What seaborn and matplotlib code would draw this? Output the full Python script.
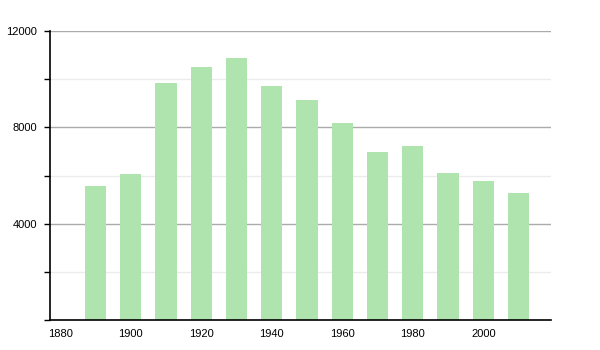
import matplotlib
matplotlib.use("Agg")
import matplotlib.pyplot as plt
import seaborn as sns
import pandas as pd
from matplotlib.ticker import MultipleLocator

years = [1890, 1900, 1910, 1920, 1930, 1940, 1950, 1960, 1970, 1980, 1990, 2000, 2010]
population = [5578, 6064, 9832, 10496, 10883, 9720, 9138, 8170, 6991, 7227, 6093, 5774, 5288]
xticks = [1880, 1900, 1920, 1940, 1960, 1980, 2000]
yticks = [4000, 8000, 12000]

df = pd.DataFrame({"year": years, "population": population})

sns.set_style("white")
plt.rcParams['font.family'] = ['Liberation Sans', 'DejaVu Sans']

fig = plt.figure(figsize=(6, 3.5), dpi=100)
ax = fig.add_axes([50/600, 30/350, 501/600, 289/350])

# gridlines
for y in [2000, 6000, 10000]:
    ax.axhline(y, color="#ececec", lw=1, zorder=0)
for y in yticks:
    ax.axhline(y, color="#ababab", lw=1, zorder=0)

sns.barplot(data=df, x="year", y="population", native_scale=True,
            color="#b0e4ae", saturation=1, width=0.6, ax=ax, zorder=2)
for p in ax.patches:
    p.set_linewidth(0)

ax.set_xlim(1877.1, 2019.2)
ax.set_ylim(0, 12000)
ax.set_xticks(xticks)
ax.set_xticklabels([str(t) for t in xticks])
ax.set_yticks(yticks)
ax.set_yticklabels([str(t) for t in yticks])
ax.yaxis.set_minor_locator(MultipleLocator(2000))
ax.set_xlabel("")
ax.set_ylabel("")

for s in ["top", "right"]:
    ax.spines[s].set_visible(False)
for s in ["left", "bottom"]:
    ax.spines[s].set_color("black")
    ax.spines[s].set_linewidth(1.2)

ax.tick_params(axis="y", which="both", left=True, length=4, width=1, color="black",
               labelsize=8, labelcolor="black", pad=5.5)
ax.tick_params(axis="x", which="both", bottom=False, labelsize=8,
               labelcolor="black", pad=3)

fig.savefig("out.png", dpi=100)
